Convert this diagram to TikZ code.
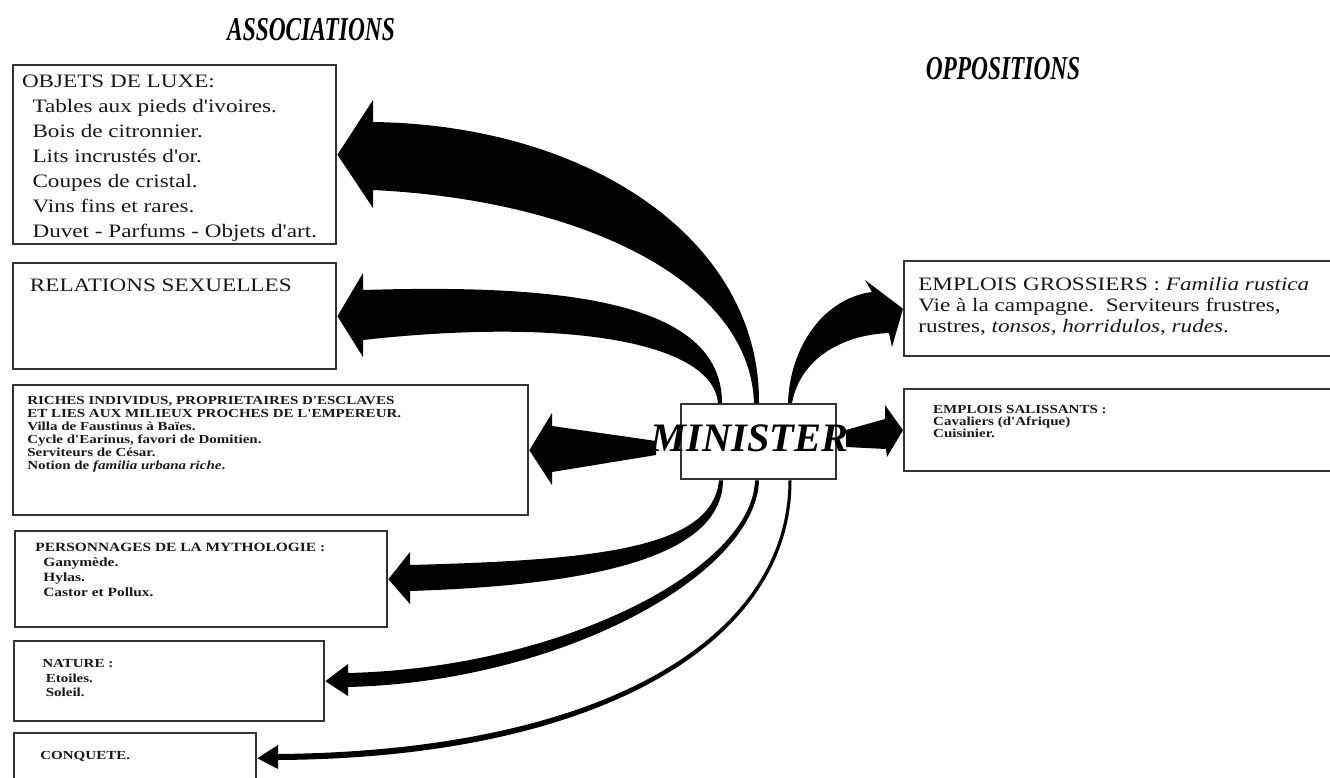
\documentclass[tikz,border=0pt]{standalone}
\usepackage{fontspec}
\setmainfont{Liberation Serif}
\newfontfamily\scanfont[FakeStretch=1.22]{Liberation Serif}
\newfontfamily\headfont[FakeStretch=0.70]{Liberation Serif}
\usetikzlibrary{positioning}

\begin{document}
\begin{tikzpicture}[
    x=0.02cm, y=-0.02cm,
    panel/.style={draw=black!80, line width=1.4pt, fill=white, inner sep=0pt, anchor=north west},
    body/.style={inner sep=0pt, align=left, text=black!90},
    big/.style={body, font=\scanfont\fontsize{10.8}{14.2}\selectfont},
    small/.style={body, font=\scanfont\bfseries\fontsize{7}{7.4}\selectfont},
    head/.style={font=\headfont\bfseries\itshape\fontsize{19}{22}\selectfont, inner sep=0pt},
    wedge/.style={fill=black}
  ]

  \useasboundingbox[fill=white] (0,0) rectangle (1330,778);

  % ── Headings ────────────────────────────────────────────────────────────
  \node[head] (assoc) at (311,30) {ASSOCIATIONS};
  \node[head] (oppos) at (1003,69) {OPPOSITIONS};

  % ── Associations (left column) ──────────────────────────────────────────
  \node[panel, minimum width=6.46cm, minimum height=3.58cm] (luxe) at (12,64) {};
  \node[big, below right=6pt and 5.5pt of luxe.north west] (luxetext) {%
    OBJETS DE LUXE:\\
    \hspace*{6pt}Tables aux pieds d'ivoires.\\
    \hspace*{6pt}Bois de citronnier.\\
    \hspace*{6pt}Lits incrustés d'or.\\
    \hspace*{6pt}Coupes de cristal.\\
    \hspace*{6pt}Vins fins et rares.\\
    \hspace*{6pt}Duvet - Parfums - Objets d'art.};

  \node[panel, minimum width=6.46cm, minimum height=2.12cm] (sexe) at (12,262) {};
  \node[big, below right=9.7pt and 10pt of sexe.north west] (sexetext) {RELATIONS SEXUELLES};

  \node[panel, minimum width=10.3cm, minimum height=2.6cm] (riches) at (12,384) {};
  \node[small, below right=6.8pt and 8.5pt of riches.north west] (richestext) {%
    RICHES INDIVIDUS, PROPRIETAIRES D'ESCLAVES\\
    ET LIES AUX MILIEUX PROCHES DE L'EMPEREUR.\\
    Villa de Faustinus à Baïes.\\
    Cycle d'Earinus, favori de Domitien.\\
    Serviteurs de César.\\
    Notion de \textit{familia urbana riche}.};

  \node[panel, minimum width=7.44cm, minimum height=1.92cm] (mytho) at (14,530) {};
  \node[small, below right=7.4pt and 12pt of mytho.north west,
        font=\scanfont\bfseries\fontsize{7.2}{8.5}\selectfont] (mythotext) {%
    PERSONNAGES DE LA MYTHOLOGIE :\\
    \hspace*{4.5pt}Ganymède.\\
    \hspace*{4.5pt}Hylas.\\
    \hspace*{4.5pt}Castor et Pollux.};

  \node[panel, minimum width=6.2cm, minimum height=1.6cm] (nature) at (13,640) {};
  \node[small, below right=10.8pt and 16.5pt of nature.north west,
        font=\scanfont\bfseries\fontsize{7}{8.3}\selectfont] (naturetext) {%
    NATURE :\\
    \hspace*{2pt}Etoiles.\\
    \hspace*{2pt}Soleil.};

  \node[panel, minimum width=4.84cm, minimum height=1.0cm] (conquete) at (13,732) {};
  \node[small, below right=10.8pt and 15.4pt of conquete.north west] (conquetetext) {CONQUETE.};

  % ── Oppositions (right column) ──────────────────────────────────────────
  \node[panel, minimum width=8.8cm, minimum height=1.9cm] (grossiers) at (903,260) {};
  \node[big, below right=9.7pt and 8.5pt of grossiers.north west,
        font=\scanfont\fontsize{10.8}{12}\selectfont] (grossierstext) {%
    EMPLOIS GROSSIERS : \textit{Familia rustica}\\
    Vie à la campagne.\ \ Serviteurs frustres,\\
    rustres, \textit{tonsos}, \textit{horridulos}, \textit{rudes}.};

  \node[panel, minimum width=8.8cm, minimum height=1.64cm] (salissants) at (903,388) {};
  \node[small, below right=9.7pt and 17pt of salissants.north west,
        font=\scanfont\bfseries\fontsize{7}{6.8}\selectfont] (salissantstext) {%
    EMPLOIS SALISSANTS :\\
    Cavaliers (d'Afrique)\\
    Cuisinier.};

  % ── Centre ──────────────────────────────────────────────────────────────
  \node[panel, minimum width=3.1cm, minimum height=1.5cm] (minister) at (680,403) {};

  % stems on the top and bottom edges of the centre box
  \coordinate (t1) at ([shift={(77,0)}]minister.north west);
  \coordinate (t2) at ([shift={(40,0)}]minister.north west);
  \coordinate (t3) at ([shift={(110,0)}]minister.north west);
  \coordinate (b1) at ([shift={(40,0)}]minister.south west);
  \coordinate (b2) at ([shift={(77,0)}]minister.south west);
  \coordinate (b3) at ([shift={(110,0)}]minister.south west);

  % tapered arrows, thick at the head and thin at the box
  \fill[wedge] (luxe.east) -- (373,100) -- (373,122)
    .. controls (590,125) and (760,240) .. ([shift={(2,0)}]t1)
    -- ([shift={(-3,0)}]t1)
    .. controls (750,280) and (580,200) .. (373,190) -- (373,208) -- cycle;

  \fill[wedge] (sexe.east) -- (363,273) -- (363,290)
    .. controls (560,284) and (722,300) .. ([shift={(2,0)}]t2)
    -- ([shift={(-2,0)}]t2)
    .. controls (712,340) and (560,318) .. (363,340) -- (363,357) -- cycle;

  \fill[wedge] (riches.east) -- (552,413) -- (552,426) -- (656,441)
    -- (656,455) -- (552,472) -- (552,485) -- cycle;

  \fill[wedge] (mytho.east) -- (410,552) -- (410,565)
    .. controls (600,560) and (712,548) .. ([shift={(-1,0)}]b1)
    -- ([shift={(3,0)}]b1)
    .. controls (722,555) and (600,585) .. (410,591) -- (410,604) -- cycle;

  \fill[wedge] (nature.east) -- (348,664) -- (348,673)
    .. controls (560,668) and (752,570) .. ([shift={(-2,0)}]b2)
    -- ([shift={(2,0)}]b2)
    .. controls (756,575) and (560,682) .. (348,687) -- (348,696) -- cycle;

  \fill[wedge] (conquete.east) -- (278,745) -- (278,754)
    .. controls (600,751) and (788,640) .. ([shift={(-1.5,0)}]b3)
    -- ([shift={(1.5,0)}]b3)
    .. controls (792,642) and (600,758) .. (278,760) -- (278,769) -- cycle;

  \fill[wedge] (grossiers.west) -- (892,347) -- (889,333)
    .. controls (840,335) and (800,360) .. ([shift={(2,0)}]t3)
    -- ([shift={(-2,0)}]t3)
    .. controls (790,345) and (825,298) .. (872,292) -- (865,280) -- cycle;

  \fill[wedge] (salissants.west) -- (887,457) -- (886,449) -- (846,447)
    -- (846,430) -- (885,419) -- (885,405) -- cycle;

  \node[font=\bfseries\itshape\fontsize{23}{26}\selectfont, inner sep=0pt]
    (ministerlabel) at ([shift={(-9,-3)}]minister.center) {MINISTER};

\end{tikzpicture}
\end{document}
